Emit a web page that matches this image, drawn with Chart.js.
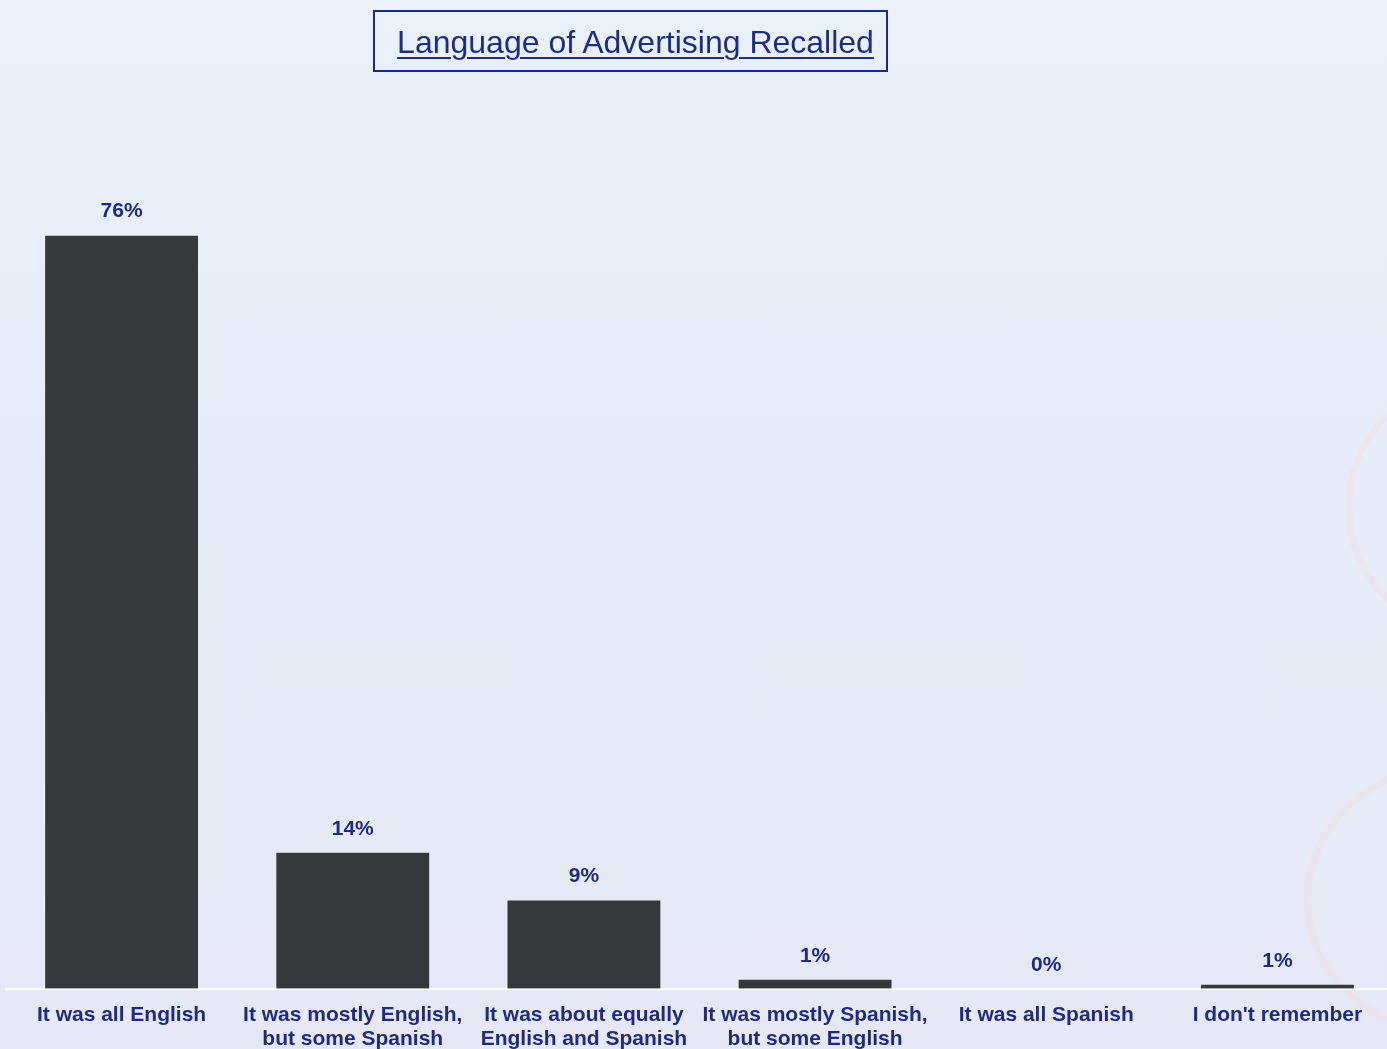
<!DOCTYPE html>
<html>
<head>
<meta charset="utf-8">
<script src="https://cdn.jsdelivr.net/npm/chart.js@4.4.0/dist/chart.umd.min.js"></script>
<style>
  html, body {
    margin: 0;
    padding: 0;
    width: 1387px;
    height: 1049px;
    overflow: hidden;
    background: linear-gradient(to bottom, #e9f1fa 0%, #e6ecf7 45%, #e6e9f5 100%);
    position: relative;
  }
  .ring {
    position: absolute;
    border-radius: 50%;
    border: 7px solid rgba(238, 224, 232, 0.55);
  }
  #ring1 { left: 1345px; top: 375px; width: 250px; height: 250px; }
  #ring2 { left: 1304px; top: 768px; width: 250px; height: 250px; }
  #title {
    position: absolute;
    left: 373px;
    top: 10px;
    width: 501px;
    padding-left: 10px;
    height: 58px;
    border: 2px solid #1b2a8f;
    font-family: Arial, "Liberation Sans", sans-serif;
    font-size: 32px;
    color: #1c2c8e;
    text-align: center;
    line-height: 60px;
    text-decoration: underline;
    text-underline-offset: 4px;
    text-decoration-thickness: 2px;
  }
  #wrap {
    position: absolute;
    left: 0;
    top: 0;
    width: 1400px;
    height: 1065px;
  }
</style>
</head>
<body>
<div class="ring" id="ring1"></div>
<div class="ring" id="ring2"></div>
<div id="wrap"><canvas id="myBarChart"></canvas></div>
<div id="title">Language of Advertising Recalled</div>
<script>
// data
var categories = [
    'It was all English',
    ['It was mostly English,', 'but some Spanish'],
    ['It was about equally', 'English and Spanish'],
    ['It was mostly Spanish,', 'but some English'],
    'It was all Spanish',
    "I don't remember"
];
var percentValues = [76, 13.8, 9, 1, 0, 0.5];
var percentLabels = ['76%', '14%', '9%', '1%', '0%', '1%'];

// label di atas batang
var valueLabels = {
    id: 'valueLabels',
    afterDatasetsDraw: function (chart) {
        var ctx = chart.ctx;
        var meta = chart.getDatasetMeta(0);
        ctx.save();
        ctx.font = 'bold 21px Arial, "Liberation Sans", sans-serif';
        ctx.fillStyle = '#1f2a88';
        ctx.textAlign = 'center';
        ctx.textBaseline = 'middle';
        meta.data.forEach(function (bar, i) {
            ctx.fillText(percentLabels[i], bar.x, bar.y - 23);
        });
        ctx.restore();
    }
};

var ctx = document.getElementById('myBarChart').getContext('2d');
var myBarChart = new Chart(ctx, {
    type: 'bar',
    data: {
        labels: categories,
        datasets: [{
            data: percentValues,
            backgroundColor: '#35393c',
            borderColor: 'rgba(240, 244, 250, 0.5)',
            borderWidth: 1,
            barPercentage: 0.67,
            categoryPercentage: 1
        }]
    },
    options: {
        responsive: true,
        maintainAspectRatio: false,
        animation: false,
        layout: {
            padding: { top: 195, left: 6, right: 7, bottom: 0 }
        },
        plugins: {
            legend: { display: false },
            tooltip: { enabled: false }
        },
        scales: {
            x: {
                grid: { display: false, drawTicks: false },
                border: { display: true, color: '#ffffff', width: 2 },
                ticks: {
                    color: '#1f2a88',
                    padding: 14,
                    maxRotation: 0,
                    autoSkip: false,
                    font: { family: 'Arial, "Liberation Sans", sans-serif', size: 21, weight: 'bold', lineHeight: 1.15 }
                }
            },
            y: {
                display: false,
                min: 0,
                max: 80
            }
        }
    },
    plugins: [valueLabels]
});
</script>
</body>
</html>
